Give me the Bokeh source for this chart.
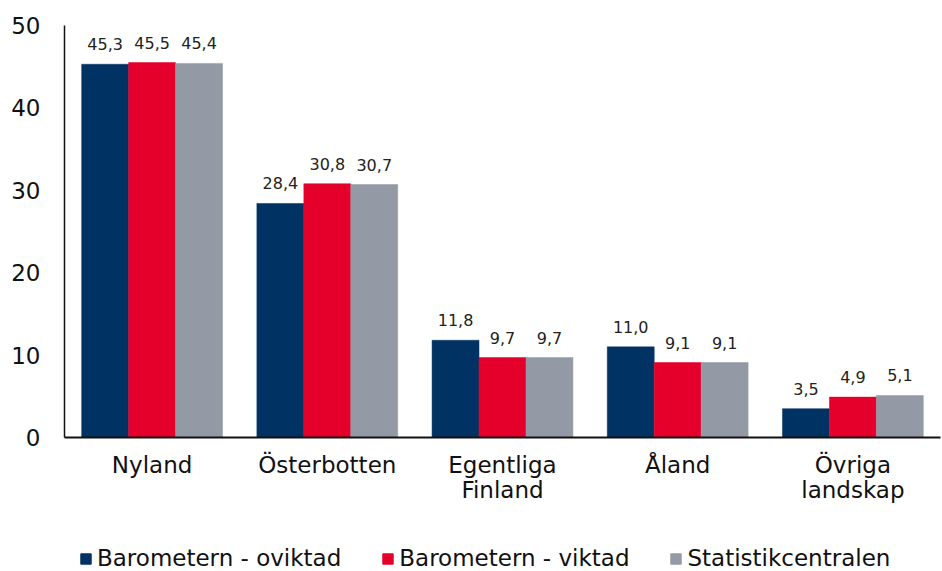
from bokeh.plotting import figure
from bokeh.models import ColumnDataSource, FactorRange, Range1d, Legend, LegendItem, LabelSet
from bokeh.layouts import column
from bokeh.core.properties import value
from bokeh.transform import dodge
from bokeh.embed import file_html
from bokeh.resources import INLINE

categories = ["Nyland", "Österbotten", "Egentliga\nFinland", "Åland", "Övriga\nlandskap"]
series = ["Barometern - oviktad", "Barometern - viktad", "Statistikcentralen"]
oviktad = [45.3, 28.4, 11.8, 11.0, 3.5]
viktad = [45.5, 30.8, 9.7, 9.1, 4.9]
statistik = [45.4, 30.7, 9.7, 9.1, 5.1]
colors = ["#003363", "#E4002B", "#939AA6"]

FONT = "DejaVu Sans"

src = ColumnDataSource(dict(
    cat=categories,
    s0=oviktad, s1=viktad, s2=statistik,
    l0=[f"{v:.1f}".replace(".", ",") for v in oviktad],
    l1=[f"{v:.1f}".replace(".", ",") for v in viktad],
    l2=[f"{v:.1f}".replace(".", ",") for v in statistik],
))

p = figure(x_range=FactorRange(*categories, range_padding=0), y_range=Range1d(0, 50),
           frame_width=876, frame_height=412, output_backend="svg", toolbar_location=None,
           min_border_left=64, min_border_right=2, min_border_top=25, min_border_bottom=70)

bw = 0.268
offsets = [-bw, 0, bw]
for i, (key, off) in enumerate(zip(["s0", "s1", "s2"], offsets)):
    p.vbar(x=dodge("cat", off, range=p.x_range), top=key, width=bw, source=src,
           fill_color=colors[i], line_color=colors[i], line_width=0.5)
    lbl = LabelSet(x=dodge("cat", off, range=p.x_range), y=key, text="l" + key[1:], source=src,
                   text_align="center", text_baseline="bottom", y_offset=14,
                   text_font=value(FONT), text_font_size="16px", text_color="#222222")
    p.add_layout(lbl)

p.xgrid.grid_line_color = None
p.ygrid.grid_line_color = None
p.outline_line_color = None

p.yaxis.ticker = [0, 10, 20, 30, 40, 50]
p.yaxis.major_tick_line_color = None
p.yaxis.minor_tick_line_color = None
p.yaxis.major_label_text_font = FONT
p.yaxis.major_label_text_font_size = "23px"
p.yaxis.major_label_text_color = "#111111"
p.yaxis.major_label_standoff = 18
p.yaxis.axis_line_color = "#111111"
p.yaxis.axis_line_width = 1.5

p.xaxis.major_tick_line_color = None
p.xaxis.minor_tick_line_color = None
p.xaxis.major_label_text_font = FONT
p.xaxis.major_label_text_font_size = "23px"
p.xaxis.major_label_text_color = "#111111"
p.xaxis.major_label_text_line_height = 0.98
p.xaxis.major_label_standoff = 8
p.xaxis.axis_line_color = "#111111"
p.xaxis.axis_line_width = 2

# legend in its own strip below the chart
lf = figure(width=942, height=64, x_range=Range1d(0, 1), y_range=Range1d(0, 1),
            output_backend="svg", toolbar_location=None, x_axis_type=None, y_axis_type=None,
            min_border_left=0, min_border_right=0, min_border_top=0, min_border_bottom=0)
lf.xgrid.grid_line_color = None
lf.ygrid.grid_line_color = None
lf.outline_line_color = None
lrs = []
for i in range(3):
    lrs.append(lf.vbar(x=[-5], top=[-5], bottom=[-6], width=0.1,
                       fill_color=colors[i], line_color=colors[i]))

legend = Legend(items=[LegendItem(label=s, renderers=[r]) for s, r in zip(series, lrs)],
                orientation="horizontal", location=(15, 0),
                label_text_font=FONT, label_text_font_size="23px", label_text_color="#111111",
                glyph_width=13, glyph_height=13, label_standoff=5, spacing=40,
                border_line_color=None, background_fill_alpha=0, margin=0, padding=0)
lf.add_layout(legend)

layout = column(p, lf, spacing=0)
open("out.html", "w").write(file_html(layout, INLINE))
